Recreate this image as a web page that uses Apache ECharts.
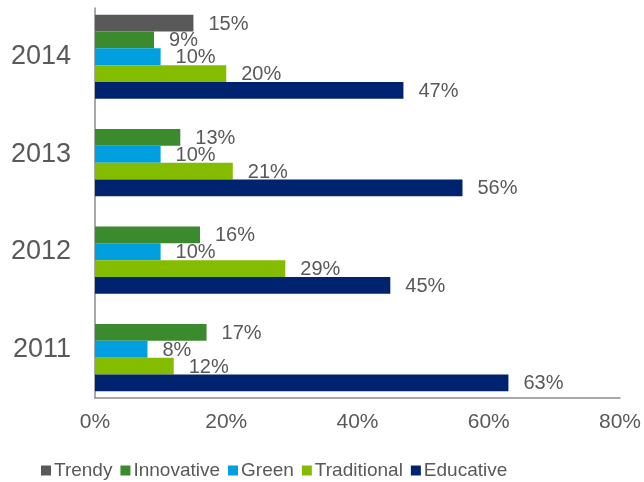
<!DOCTYPE html>
<html>
<head>
<meta charset="utf-8">
<script src="https://cdn.jsdelivr.net/npm/echarts@6/dist/echarts.min.js"></script>
<style>html,body{margin:0;padding:0;background:#fff}#c{width:644px;height:482px}</style>
</head>
<body>
<div id="c"></div>
<script>
var years = ['2011', '2012', '2013', '2014'];
var seriesNames = ['Trendy', 'Innovative', 'Green', 'Traditional', 'Educative'];
var trendy = ['-', '-', '-', 15];
var innovative = [17, 16, 13, 9];
var green = [8, 10, 10, 10];
var traditional = [12, 29, 21, 20];
var educative = [63, 45, 56, 47];
var xTicks = [0, 20, 40, 60, 80];
var colors = ['#595959', '#3c8a2e', '#00a0e0', '#84bd00', '#00236f'];

var values = [trendy, innovative, green, traditional, educative];
var chart = echarts.init(document.getElementById('c'));
var textColor = '#595959';
var font = 'Liberation Sans, Arial, sans-serif';

var series = seriesNames.map(function (name, i) {
  return {
    name: name,
    type: 'bar',
    data: values[i],
    barGap: '0%',
    barCategoryGap: '14%',
    itemStyle: { color: colors[i] },
    label: {
      show: true,
      position: 'right',
      distance: 15,
      offset: [0, 1],
      color: textColor,
      fontSize: 20,
      fontFamily: font,
      formatter: '{c}%'
    },
    emphasis: { disabled: true }
  };
});

chart.setOption({
  animation: false,
  textStyle: { fontFamily: font },
  grid: { left: 95, right: 23, top: 8, bottom: 84, containLabel: false },
  xAxis: {
    type: 'value',
    min: xTicks[0],
    max: xTicks[xTicks.length - 1],
    interval: 20,
    splitLine: { show: false },
    axisLine: { show: true, lineStyle: { color: '#8c8c8c', width: 1.5 } },
    axisTick: { show: false },
    axisLabel: { color: textColor, fontSize: 21, fontFamily: font, margin: 14, formatter: '{value}%' }
  },
  yAxis: {
    type: 'category',
    data: years,
    axisLine: { show: true, lineStyle: { color: '#8c8c8c', width: 1.5 } },
    axisTick: { show: false },
    axisLabel: { color: textColor, fontSize: 27, fontFamily: font, margin: 24 }
  },
  legend: {
    data: seriesNames,
    left: 36,
    top: 456,
    icon: 'rect',
    itemWidth: 10,
    itemHeight: 10,
    itemGap: 8,
    textStyle: { color: textColor, fontSize: 19, fontFamily: font, padding: [0, 0, 0, -2] }
  },
  series: series
});
</script>
</body>
</html>
